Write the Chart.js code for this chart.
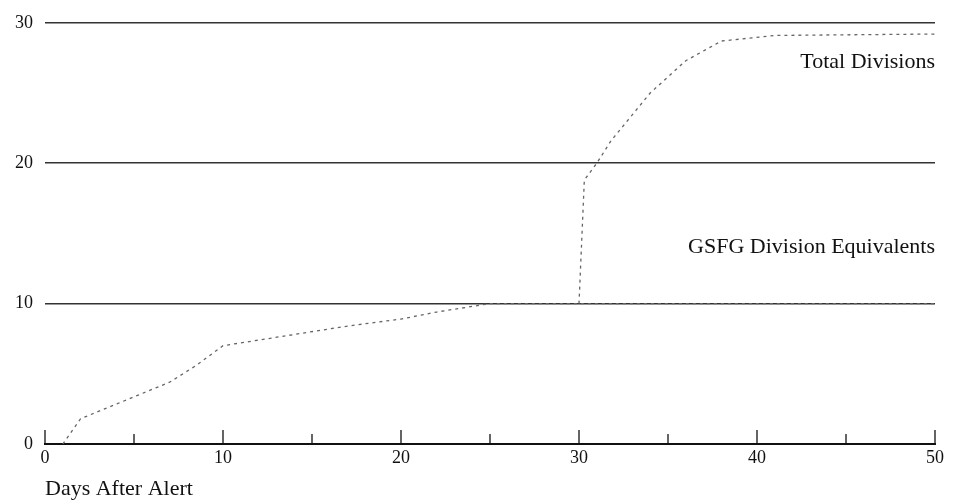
<!DOCTYPE html>
<html>
<head>
<meta charset="utf-8">
<script src="https://cdn.jsdelivr.net/npm/chart.js@4"></script>
<style>
    html, body { margin: 0; padding: 0; background: #fff; }
    #wrap { width: 956px; height: 504px; }
</style>
</head>
<body>
<div id="wrap"><canvas id="divisionsChart"></canvas></div>
<script>
// Days after alert and divisions
const gsfgDays = [1, 2, 7, 8.5, 10, 12, 14.5, 17, 20, 22, 25, 30, 50];
const gsfgValues = [0, 1.8, 4.4, 5.6, 7.0, 7.4, 7.9, 8.4, 8.9, 9.4, 10.0, 10.0, 10.0];

const totalDays = [30, 30.3, 31, 31.8, 34, 36, 38, 41, 50];
const totalValues = [10.0, 18.8, 20.0, 21.6, 25.0, 27.3, 28.7, 29.1, 29.2];

const xTicks = [0, 10, 20, 30, 40, 50];
const yTicks = [0, 10, 20, 30];

// series labels, placed in data units
const seriesLabels = [
    { text: 'Total Divisions', x: 50, y: 27.2 },
    { text: 'GSFG Division Equivalents', x: 50, y: 14.0 }
];

const serif = "'Liberation Serif', 'DejaVu Serif', serif";

const toPoints = (xs, ys) => xs.map((x, i) => ({ x: x, y: ys[i] }));

// small upward tick marks on the x axis every 5 days
const upTicks = {
    id: 'upTicks',
    afterDraw(chart) {
        const ctx = chart.ctx;
        const xScale = chart.scales.x;
        const bottom = chart.chartArea.bottom;
        ctx.save();
        ctx.strokeStyle = '#111';
        ctx.lineWidth = 1.3;
        xScale.ticks.forEach(t => {
            const px = xScale.getPixelForValue(t.value);
            const len = t.value % 10 === 0 ? 14 : 10;
            ctx.beginPath();
            ctx.moveTo(px, bottom);
            ctx.lineTo(px, bottom - len);
            ctx.stroke();
        });
        ctx.restore();
    }
};

// series names written at right end of the chart
const seriesText = {
    id: 'seriesText',
    afterDraw(chart) {
        const ctx = chart.ctx;
        ctx.save();
        ctx.font = '22px ' + serif;
        ctx.fillStyle = '#111';
        ctx.textAlign = 'right';
        ctx.textBaseline = 'middle';
        seriesLabels.forEach(l => {
            ctx.fillText(l.text, chart.scales.x.getPixelForValue(l.x), chart.scales.y.getPixelForValue(l.y));
        });
        ctx.restore();
    }
};

const ctx = document.getElementById('divisionsChart').getContext('2d');

new Chart(ctx, {
    type: 'line',
    data: {
        datasets: [
            {
                label: 'GSFG Division Equivalents',
                data: toPoints(gsfgDays, gsfgValues),
                borderColor: '#666',
                borderWidth: 1.3,
                borderDash: [3, 4],
                pointRadius: 0,
                tension: 0
            },
            {
                label: 'Total Divisions',
                data: toPoints(totalDays, totalValues),
                borderColor: '#666',
                borderWidth: 1.3,
                borderDash: [3, 4],
                pointRadius: 0,
                tension: 0
            }
        ]
    },
    options: {
        responsive: true,
        maintainAspectRatio: false,
        animation: false,
        layout: {
            padding: { left: 3, right: 21, top: -4, bottom: 2 }
        },
        plugins: {
            legend: { display: false },
            tooltip: { enabled: false }
        },
        scales: {
            x: {
                type: 'linear',
                min: 0,
                max: 50,
                afterBuildTicks: axis => {
                    axis.ticks = [];
                    for (let v = 0; v <= 50; v += 5) axis.ticks.push({ value: v });
                },
                ticks: {
                    autoSkip: false,
                    maxRotation: 0,
                    padding: 3,
                    color: '#111',
                    font: { family: serif, size: 18 },
                    callback: value => xTicks.includes(value) ? String(value) : ''
                },
                grid: {
                    display: false,
                    drawTicks: false
                },
                border: {
                    display: true,
                    color: '#111',
                    width: 2
                },
                title: {
                    display: true,
                    text: 'Days After Alert',
                    align: 'start',
                    color: '#111',
                    font: { family: serif, size: 22 },
                    padding: { top: 4, bottom: 0 }
                }
            },
            y: {
                min: 0,
                max: 30,
                afterBuildTicks: axis => {
                    axis.ticks = yTicks.map(v => ({ value: v }));
                },
                ticks: {
                    padding: 12,
                    color: '#111',
                    font: { family: serif, size: 18 }
                },
                grid: {
                    drawTicks: false,
                    color: c => c.tick && c.tick.value === 0 ? 'rgba(0,0,0,0)' : '#333',
                    lineWidth: 1.5
                },
                border: { display: false }
            }
        }
    },
    plugins: [upTicks, seriesText]
});
</script>
</body>
</html>
